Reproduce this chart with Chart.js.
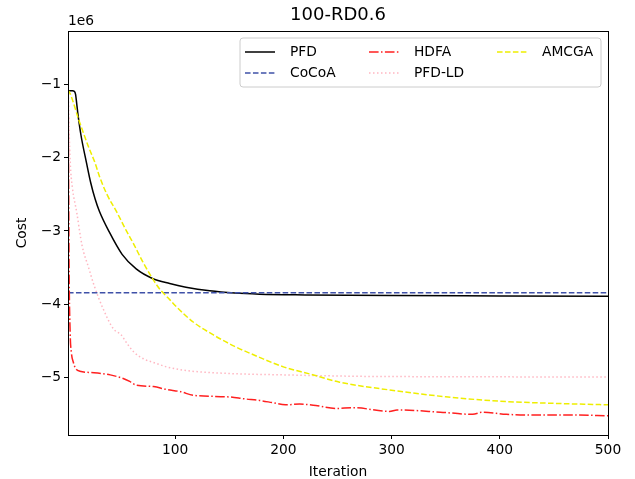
<!DOCTYPE html>
<html>
<head>
<meta charset="utf-8">
<script src="https://cdn.jsdelivr.net/npm/chart.js@4.4.1/dist/chart.umd.min.js"></script>
<style>html,body{margin:0;padding:0;background:#fff;}canvas{display:block;}</style>
</head>
<body>
<canvas id="c" width="635" height="479"></canvas>
<script>
const chartTitle = "100-RD0.6";
const xLabel = "Iteration";
const yLabel = "Cost";
const xTicks = [100, 200, 300, 400, 500];
const yTicks = [-5e6, -4e6, -3e6, -2e6, -1e6];

const pfdIter = [1,5,7,8,9,10,13,18,22,26,30,39,51,64,79,95,110,132,155,178,220,300,400,500];
const pfdCost = [-1.08e6,-1.08e6,-1.09e6,-1.13e6,-1.25e6,-1.38e6,-1.69e6,-2.06e6,-2.34e6,-2.56e6,-2.73e6,-3.01e6,-3.32e6,-3.52e6,-3.65e6,-3.72e6,-3.77e6,-3.82e6,-3.85e6,-3.865e6,-3.875e6,-3.885e6,-3.89e6,-3.895e6];

const cocoaIter = [1, 500];
const cocoaCost = [-3.845e6, -3.845e6];

const hdfaIter = [1,2,3,4,6,8,12,25,40,52,58,64,80,92,105,117,148,165,178,190,202,215,230,248,265,298,305,345,375,384,406,437,470,500];
const hdfaCost = [-0.55e6,-3.5e6,-4.4e6,-4.65e6,-4.8e6,-4.88e6,-4.92e6,-4.94e6,-4.97e6,-5.02e6,-5.06e6,-5.11e6,-5.13e6,-5.17e6,-5.2e6,-5.25e6,-5.27e6,-5.3e6,-5.32e6,-5.35e6,-5.38e6,-5.37e6,-5.39e6,-5.43e6,-5.42e6,-5.47e6,-5.45e6,-5.48e6,-5.51e6,-5.48e6,-5.51e6,-5.52e6,-5.52e6,-5.53e6];

const ldIter = [1,2,3,5,9,14,20,25,33,43,50,56,62,72,80,92,110,148,200,271,350,500];
const ldCost = [-0.9e6,-1.6e6,-2.05e6,-2.4e6,-2.74e6,-3.2e6,-3.5e6,-3.74e6,-4.05e6,-4.34e6,-4.42e6,-4.55e6,-4.66e6,-4.76e6,-4.8e6,-4.86e6,-4.91e6,-4.95e6,-4.97e6,-4.99e6,-4.995e6,-5.0e6];

const amcgaIter = [1,3,11,20,26,30,37,46,55,61,70,79,86,95,100,117,135,155,178,200,225,252,300,350,400,450,500];
const amcgaCost = [-1.07e6,-1.12e6,-1.48e6,-1.85e6,-2.07e6,-2.25e6,-2.5e6,-2.74e6,-3.0e6,-3.16e6,-3.42e6,-3.65e6,-3.8e6,-3.94e6,-4.02e6,-4.25e6,-4.42e6,-4.58e6,-4.73e6,-4.86e6,-4.96e6,-5.07e6,-5.18e6,-5.27e6,-5.33e6,-5.36e6,-5.38e6];

function pts(xs, ys){ return xs.map((x,i)=>({x:x, y:ys[i]})); }

const FONT = "'DejaVu Sans', sans-serif";

const datasets = [
  {label:'PFD', data:pts(pfdIter,pfdCost), borderColor:'#000000', borderDash:[], order:5},
  {label:'CoCoA', data:pts(cocoaIter,cocoaCost), borderColor:'#3f51a8', borderDash:[5.55,2.4], order:4},
  {label:'HDFA', data:pts(hdfaIter,hdfaCost), borderColor:'#ff2020', borderDash:[9.6,2.4,1.5,2.4], order:3},
  {label:'PFD-LD', data:pts(ldIter,ldCost), borderColor:'#ffb6c1', borderDash:[1.5,2.5], order:2},
  {label:'AMCGA', data:pts(amcgaIter,amcgaCost), borderColor:'#eeee00', borderDash:[5.55,2.4], order:1}
].map(d=>Object.assign(d,{borderWidth:1.5, pointRadius:0, cubicInterpolationMode:'monotone', fill:false}));

const decor = {
  id:'decor',
  afterDraw(chart){
    const ctx = chart.ctx, a = chart.chartArea;
    ctx.save();
    ctx.strokeStyle = '#000'; ctx.lineWidth = 1;
    ctx.strokeRect(Math.round(a.left)+0.5, Math.round(a.top)+0.5, Math.round(a.right-a.left), Math.round(a.bottom-a.top));
    ctx.fillStyle = '#000';
    ctx.font = "18px " + FONT;
    ctx.textAlign='center'; ctx.textBaseline='middle';
    ctx.fillText(chartTitle, (a.left+a.right)/2, 15);
    ctx.font = "13.8px " + FONT;
    ctx.fillText(xLabel, (a.left+a.right)/2, 472);
    ctx.save();
    ctx.translate(22, (a.top+a.bottom)/2);
    ctx.rotate(-Math.PI/2);
    ctx.fillText(yLabel, 0, 0);
    ctx.restore();
    ctx.textAlign='left';
    ctx.fillText('1e6', a.left, 21);
    const bx=240, by=38, bw=361, bh=49, r=3;
    ctx.beginPath();
    ctx.moveTo(bx+r,by); ctx.lineTo(bx+bw-r,by); ctx.quadraticCurveTo(bx+bw,by,bx+bw,by+r);
    ctx.lineTo(bx+bw,by+bh-r); ctx.quadraticCurveTo(bx+bw,by+bh,bx+bw-r,by+bh);
    ctx.lineTo(bx+r,by+bh); ctx.quadraticCurveTo(bx,by+bh,bx,by+bh-r);
    ctx.lineTo(bx,by+r); ctx.quadraticCurveTo(bx,by,bx+r,by);
    ctx.closePath();
    ctx.fillStyle='rgba(255,255,255,0.8)'; ctx.fill();
    ctx.strokeStyle='#cccccc'; ctx.lineWidth=1; ctx.stroke();
    const pos = {
      'PFD':[245,52],'CoCoA':[245,73],'HDFA':[369,52],'PFD-LD':[369,73],'AMCGA':[497,52]
    };
    chart.data.datasets.forEach(ds=>{
      const p = pos[ds.label];
      ctx.beginPath();
      ctx.strokeStyle = ds.borderColor; ctx.lineWidth = ds.borderWidth;
      ctx.setLineDash(ds.borderDash);
      ctx.moveTo(p[0], p[1]); ctx.lineTo(p[0]+30, p[1]); ctx.stroke();
      ctx.setLineDash([]);
      ctx.fillStyle='#000'; ctx.textAlign='left'; ctx.textBaseline='middle';
      ctx.font = "13.8px " + FONT;
      ctx.fillText(ds.label, p[0]+45, p[1]);
    });
    ctx.restore();
  }
};

new Chart(document.getElementById('c'), {
  type:'line',
  data:{datasets:datasets},
  options:{
    responsive:false, animation:false,
    layout:{padding:{left:0, top:31, right:27, bottom:0}},
    plugins:{legend:{display:false}, tooltip:{enabled:false}, title:{display:false}},
    scales:{
      x:{type:'linear', min:1, max:500,
        afterBuildTicks(s){ s.ticks = xTicks.map(v=>({value:v})); },
        afterFit(s){ s.height = 44; },
        grid:{display:true, drawOnChartArea:false, drawTicks:true, tickLength:4, color:'#000', tickWidth:1},
        border:{display:true, color:'#000'},
        ticks:{color:'#000', font:{family:FONT, size:13.8}, padding:3, maxRotation:0, autoSkip:false,
          callback:v=>String(v)}
      },
      y:{type:'linear', min:-5.793e6, max:-0.263e6,
        afterBuildTicks(s){ s.ticks = yTicks.map(v=>({value:v})); },
        afterFit(s){ s.width = 68; },
        grid:{display:true, drawOnChartArea:false, drawTicks:true, tickLength:4, color:'#000', tickWidth:1},
        border:{display:true, color:'#000'},
        ticks:{color:'#000', font:{family:FONT, size:13.8}, padding:3, autoSkip:false,
          callback:v=>'\u2212'+Math.abs(Math.round(v/1e6))}
      }
    }
  },
  plugins:[decor]
});
</script>
</body>
</html>
